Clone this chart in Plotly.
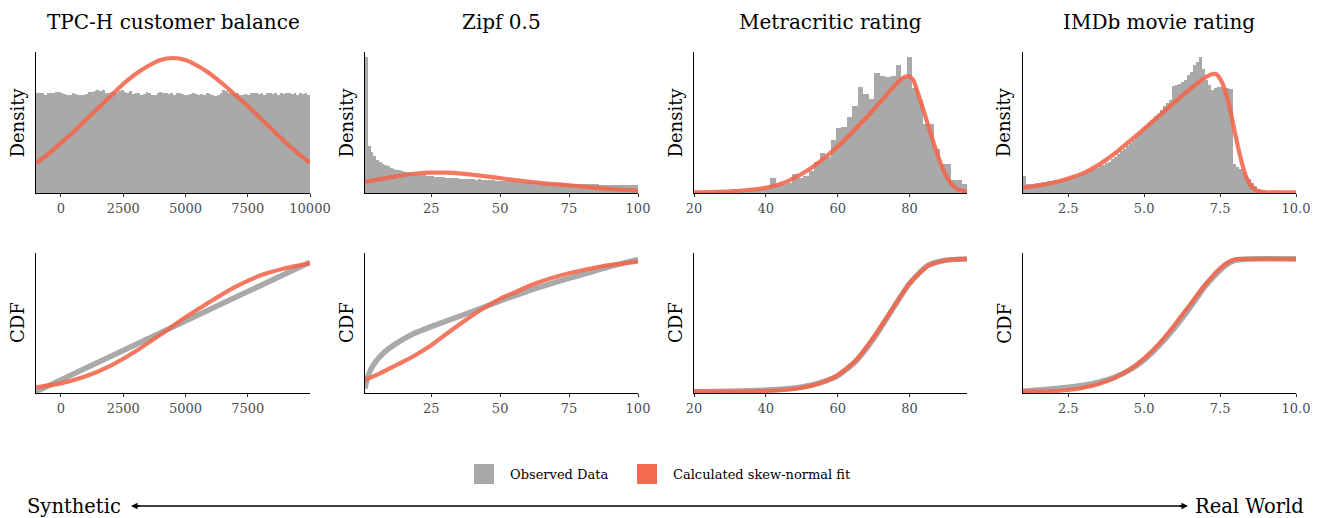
import plotly.graph_objects as go

W, H = 1322, 518

# ---------------- data ----------------
titles = ["TPC-H customer balance", "Zipf 0.5", "Metracritic rating", "IMDb movie rating"]

# TPC-H customer balance histogram: 100 bins of width 110 starting at -1000
tpch_bin_start, tpch_bin_width = -1000, 110
tpch_hist = [100.3, 100.3, 99.7, 98.0, 99.7, 99.7, 100.3, 101.3, 101.0, 99.7,
             99.0, 98.0, 98.3, 99.7, 98.7, 98.0, 97.7, 98.0, 99.0, 101.3,
             101.0, 101.7, 103.0, 102.0, 103.0, 99.7, 100.3, 101.3, 100.7, 99.7,
             102.0, 103.0, 101.3, 100.3, 102.3, 99.0, 99.7, 100.3, 98.3, 99.0,
             101.0, 100.3, 98.0, 98.3, 100.3, 101.0, 99.7, 100.3, 99.0, 99.7,
             98.3, 100.3, 99.7, 99.0, 97.7, 98.3, 99.0, 99.7, 98.7, 98.3,
             99.0, 98.0, 99.7, 98.7, 98.0, 97.0, 97.7, 99.7, 103.0, 101.7,
             99.7, 100.3, 99.0, 99.7, 98.3, 98.0, 99.0, 98.3, 99.7, 100.3,
             99.7, 99.0, 99.7, 98.3, 99.7, 100.3, 99.0, 99.7, 98.3, 99.7,
             99.0, 99.7, 100.3, 99.0, 99.7, 98.3, 99.7, 99.0, 99.7, 98.3]
tpch_fit_x = [-1000, -500, 0, 500, 1000, 1500, 2000, 2500, 3000, 3500, 4000, 4500,
              5000, 5500, 6000, 6500, 7000, 7500, 8000, 8500, 9000, 9500, 10000]
tpch_fit_y = [30, 39, 50, 61, 73, 85, 97, 109, 119, 127, 133, 135,
              133, 127, 119, 109, 98, 87, 75, 63, 51, 40, 30]

# Zipf 0.5 histogram: 99 bins of width 1 starting at 1
zipf_bin_start, zipf_bin_width = 1, 1
zipf_hist = [408, 140, 122, 110, 100, 93, 88, 84, 80, 76,
             73, 70, 68, 66, 64, 62, 60, 58, 57, 55,
             54, 53, 52, 52, 50, 49, 48, 48, 47, 46,
             46, 45, 44, 45, 43, 43, 42, 42, 41, 41,
             40, 41, 39, 39, 38, 38, 38, 37, 37, 36,
             36, 35, 35, 35, 34, 34, 33, 33, 33, 32,
             32, 32, 31, 31, 31, 30, 30, 30, 29, 29,
             29, 29, 28, 28, 28, 28, 27, 27, 27, 27,
             26, 26, 26, 26, 26, 25, 25, 25, 25, 25,
             24, 24, 24, 24, 24, 24, 23, 23, 23]
zipf_fit_x = [1, 6, 12, 18, 24, 30, 36, 42, 48, 54, 60, 66, 72, 78, 84, 90, 96, 100]
zipf_fit_y = [33, 41, 50, 57, 61, 61, 58, 53, 47, 40, 34, 29, 25, 21, 16, 12, 9, 7]

# Metacritic rating histogram: 50 bins of width 1.52 starting at 20
meta_bin_start, meta_bin_width = 20, 1.52
meta_hist = [2, 2, 3, 3, 4, 3, 5, 8, 5, 6,
             8, 10, 12, 15, 45, 25, 28, 30, 58, 45,
             50, 65, 95, 120, 108, 160, 195, 200, 230, 262,
             320, 300, 284, 364, 352, 350, 352, 387, 350, 412,
             317, 282, 207, 207, 132, 87, 87, 40, 40, 27]
meta_fit_x = [20, 25, 30, 35, 40, 44, 48, 52, 56, 60, 64, 68, 72, 75, 77.5, 79.6,
              81, 82.4, 84.3, 86.1, 88, 89.8, 91.7, 93.5, 96]
meta_fit_y = [2, 3, 5, 9, 16, 27, 46, 71, 103, 140, 183, 228, 277, 314, 342, 354,
              342, 300, 236, 172, 110, 60, 27, 11, 4]

# IMDb movie rating histogram: 80 bins of width 0.1 starting at 1.0
imdb_bin_start, imdb_bin_width = 1.0, 0.1
imdb_hist = [52, 26, 27, 28, 29, 31, 32, 33, 35, 36,
             38, 39, 40, 42, 44, 46, 48, 51, 54, 57,
             60, 64, 68, 72, 77, 82, 86, 90, 95, 103,
             110, 118, 126, 134, 143, 152, 161, 172, 180, 190,
             200, 210, 220, 232, 240, 252, 262, 272, 282, 324,
             326, 330, 334, 340, 357, 367, 387, 397, 412, 375,
             340, 325, 312, 318, 320, 320, 318, 316, 314, 87,
             80, 72, 62, 52, 42, 30, 22, 12, 4, 1]
imdb_fit_x = [1.0, 1.5, 2.0, 2.5, 3.0, 3.5, 4.0, 4.5, 5.0, 5.5, 6.0, 6.5, 7.0, 7.2, 7.35,
              7.5, 7.65, 7.8, 7.95, 8.1, 8.25, 8.4, 8.55, 8.7, 9.0, 10.0]
imdb_fit_y = [16, 22, 31, 44, 60, 85, 117, 155, 194, 234, 274, 313, 348, 358, 360,
              345, 315, 265, 200, 135, 80, 40, 18, 8, 3, 2]

# CDFs (observed = gray, skew-normal fit = red)
tpch_cdf_obs_x = [-1000, 0, 2500, 5000, 7500, 10000]
tpch_cdf_obs_y = [0.0, 0.089, 0.31, 0.532, 0.754, 0.975]
tpch_cdf_fit_x = [-1000, 0, 1000, 2000, 3000, 4000, 5000, 6000, 7000, 8000, 9000, 10000]
tpch_cdf_fit_y = [0.033, 0.063, 0.116, 0.197, 0.305, 0.43, 0.56, 0.68, 0.79, 0.875, 0.93, 0.967]

zipf_cdf_obs_x = [1, 2, 4, 7.6, 12.4, 18.4, 25, 36.5, 50, 63, 75, 87.5, 100]
zipf_cdf_obs_y = [0.025, 0.113, 0.201, 0.289, 0.364, 0.435, 0.49, 0.578, 0.683, 0.779, 0.854, 0.930, 0.997]
zipf_cdf_fit_x = [1, 6.4, 12.4, 18.4, 25, 30.5, 36.5, 42.5, 50, 56, 63, 75, 87.5, 100]
zipf_cdf_fit_y = [0.088, 0.138, 0.201, 0.265, 0.35, 0.435, 0.525, 0.61, 0.70, 0.755, 0.817, 0.892, 0.947, 0.980]

meta_cdf_obs_x = [20, 30, 40, 45, 50, 55, 60, 65, 70, 75, 80, 85, 90, 96]
meta_cdf_obs_y = [0.0, 0.004, 0.012, 0.02, 0.035, 0.066, 0.12, 0.228, 0.40, 0.61, 0.815, 0.95, 0.99, 1.0]
meta_cdf_fit_x = [20, 30, 40, 45, 50, 55, 60, 65, 70, 75, 80, 85, 90, 96]
meta_cdf_fit_y = [0.0, 0.001, 0.005, 0.013, 0.03, 0.064, 0.125, 0.235, 0.41, 0.615, 0.815, 0.945, 0.99, 1.0]

imdb_cdf_obs_x = [1.0, 1.5, 2.0, 2.5, 3.0, 3.5, 4.0, 4.5, 5.0, 5.5, 6.0, 6.5, 7.0, 7.5, 7.8, 8.0, 8.5, 10.0]
imdb_cdf_obs_y = [0.003, 0.012, 0.022, 0.033, 0.048, 0.072, 0.107, 0.16, 0.24, 0.35, 0.48, 0.63, 0.79, 0.915, 0.97, 0.99, 1.0, 1.0]
imdb_cdf_fit_x = [1.0, 2.0, 2.5, 3.0, 3.5, 4.0, 4.5, 5.0, 5.5, 6.0, 6.5, 7.0, 7.5, 7.8, 8.0, 8.5, 10.0]
imdb_cdf_fit_y = [0.0, 0.003, 0.013, 0.03, 0.058, 0.1, 0.163, 0.251, 0.364, 0.503, 0.653, 0.804, 0.93, 0.98, 0.997, 1.0, 1.0]

# axis settings per column
x_ranges_top = [[-1000, 10000], [1, 100], [20, 96], [1, 10]]
x_ranges_bot = [[-1000, 10000], [1, 100], [20, 96], [1, 10]]
ticks_top = [[0, 2500, 5000, 7500, 10000], [25, 50, 75, 100], [20, 40, 60, 80], [2.5, 5.0, 7.5, 10.0]]
ticks_bot = [[0, 2500, 5000, 7500], [25, 50, 75, 100], [20, 40, 60, 80], [2.5, 5.0, 7.5, 10.0]]
tick_text_top = [["0", "2500", "5000", "7500", "10000"], ["25", "50", "75", "100"], ["20", "40", "60", "80"], ["2.5", "5.0", "7.5", "10.0"]]
tick_text_bot = [["0", "2500", "5000", "7500"], ["25", "50", "75", "100"], ["20", "40", "60", "80"], ["2.5", "5.0", "7.5", "10.0"]]
hist_ymax = [141, 423, 426, 426]
cdf_yrange = [-0.012, 1.047]

# ---------------- styling ----------------
GRAY = "#A9A9A9"
RED = "rgba(243,101,74,0.88)"
FONT = "DejaVu Serif"
col_px = [(36, 310), (365, 638), (694, 967), (1022.7, 1296)]
row_px = [(52, 193), (252.7, 393.3)]

fig = go.Figure()

hists = [
    (tpch_bin_start, tpch_bin_width, tpch_hist, tpch_fit_x, tpch_fit_y),
    (zipf_bin_start, zipf_bin_width, zipf_hist, zipf_fit_x, zipf_fit_y),
    (meta_bin_start, meta_bin_width, meta_hist, meta_fit_x, meta_fit_y),
    (imdb_bin_start, imdb_bin_width, imdb_hist, imdb_fit_x, imdb_fit_y),
]
cdfs = [
    (tpch_cdf_obs_x, tpch_cdf_obs_y, tpch_cdf_fit_x, tpch_cdf_fit_y),
    (zipf_cdf_obs_x, zipf_cdf_obs_y, zipf_cdf_fit_x, zipf_cdf_fit_y),
    (meta_cdf_obs_x, meta_cdf_obs_y, meta_cdf_fit_x, meta_cdf_fit_y),
    (imdb_cdf_obs_x, imdb_cdf_obs_y, imdb_cdf_fit_x, imdb_cdf_fit_y),
]

SM = 0.6
for c in range(4):
    top = c + 1
    bot = c + 5
    start, width, hv, fx, fy = hists[c]
    centers = [start + width * (i + 0.5) for i in range(len(hv))]
    fig.add_trace(go.Bar(x=centers, y=hv, width=width, marker=dict(color=GRAY, line=dict(width=0)),
                         xaxis=f"x{top}", yaxis=f"y{top}", showlegend=False, hoverinfo="skip"))
    fig.add_trace(go.Scatter(x=fx, y=fy, mode="lines", line=dict(color=RED, width=4.2, shape="spline", smoothing=SM),
                             xaxis=f"x{top}", yaxis=f"y{top}", showlegend=False, hoverinfo="skip"))
    ox, oy, rx, ry = cdfs[c]
    fig.add_trace(go.Scatter(x=ox, y=oy, mode="lines", line=dict(color=GRAY, width=5.5, shape="spline", smoothing=SM),
                             xaxis=f"x{bot}", yaxis=f"y{bot}", showlegend=False, hoverinfo="skip"))
    fig.add_trace(go.Scatter(x=rx, y=ry, mode="lines", line=dict(color=RED, width=4.2, shape="spline", smoothing=SM),
                             xaxis=f"x{bot}", yaxis=f"y{bot}", showlegend=False, hoverinfo="skip"))

layout = dict(
    width=W, height=H, margin=dict(l=0, r=0, t=0, b=0, autoexpand=False),
    paper_bgcolor="white", plot_bgcolor="white", bargap=0, barmode="overlay",
    font=dict(family=FONT, color="black"),
)

def xax(dom, rng, tv, tt, anchor):
    return dict(domain=dom, range=rng, tickvals=tv, ticktext=tt, anchor=anchor, automargin=False,
                showline=True, linecolor="black", linewidth=1.3, ticks="outside", ticklen=3,
                tickcolor="#333333", tickwidth=1, showgrid=False, zeroline=False,
                tickfont=dict(family=FONT, size=13, color="#4D4D4D"), fixedrange=True)

def yax(dom, rng, anchor):
    return dict(domain=dom, range=rng, anchor=anchor, automargin=False, showline=True, linecolor="black",
                linewidth=1.3, showticklabels=False, ticks="", showgrid=False, zeroline=False, fixedrange=True)

annotations = []
for c in range(4):
    xd = [col_px[c][0] / W, col_px[c][1] / W]
    yd_top = [1 - row_px[0][1] / H, 1 - row_px[0][0] / H]
    yd_bot = [1 - row_px[1][1] / H, 1 - row_px[1][0] / H]
    top = c + 1
    bot = c + 5
    layout[f"xaxis{top}"] = xax(xd, x_ranges_top[c], ticks_top[c], tick_text_top[c], f"y{top}")
    layout[f"yaxis{top}"] = yax(yd_top, [0, hist_ymax[c]], f"x{top}")
    layout[f"xaxis{bot}"] = xax(xd, x_ranges_bot[c], ticks_bot[c], tick_text_bot[c], f"y{bot}")
    layout[f"yaxis{bot}"] = yax(yd_bot, cdf_yrange, f"x{bot}")
    annotations.append(dict(text=titles[c], x=(xd[0] + xd[1]) / 2, y=1 - 22 / H, xref="paper", yref="paper",
                            xanchor="center", yanchor="middle", showarrow=False,
                            font=dict(family=FONT, size=20, color="black")))
    for lab, (r0, r1) in (("Density", row_px[0]), ("CDF", row_px[1])):
        annotations.append(dict(text=lab, x=(col_px[c][0] - 19) / W, y=1 - (r0 + r1) / 2 / H,
                                xref="paper", yref="paper", xanchor="center", yanchor="middle",
                                textangle=-90, showarrow=False,
                                font=dict(family=FONT, size=18, color="black")))

# legend (manual)
arrow_y = 1 - 506 / H
shapes = [
    dict(type="rect", xref="paper", yref="paper", x0=474 / W, x1=494 / W, y0=1 - 484 / H, y1=1 - 464 / H,
         fillcolor=GRAY, line=dict(width=0)),
    dict(type="rect", xref="paper", yref="paper", x0=637 / W, x1=657 / W, y0=1 - 484 / H, y1=1 - 464 / H,
         fillcolor="#F26A4F", line=dict(width=0)),
    dict(type="line", xref="paper", yref="paper", x0=133 / W, x1=1186 / W, y0=arrow_y, y1=arrow_y,
         line=dict(color="black", width=1.3)),
]
annotations.append(dict(text="Observed Data", x=508 / W, y=1 - 474 / H, xref="paper", yref="paper",
                        xanchor="left", yanchor="middle", showarrow=False,
                        font=dict(family=FONT, size=13, color="black")))
annotations.append(dict(text="Calculated skew-normal fit", x=671 / W, y=1 - 474 / H, xref="paper", yref="paper",
                        xanchor="left", yanchor="middle", showarrow=False,
                        font=dict(family=FONT, size=13, color="black")))

# Synthetic <-> Real World arrow
annotations.append(dict(text="Synthetic", x=123 / W, y=arrow_y, xref="paper", yref="paper",
                        xanchor="right", yanchor="middle", showarrow=False,
                        font=dict(family=FONT, size=19.5, color="black")))
annotations.append(dict(text="Real World", x=1193 / W, y=arrow_y, xref="paper", yref="paper",
                        xanchor="left", yanchor="middle", showarrow=False,
                        font=dict(family=FONT, size=19.5, color="black")))
for tip, tail in ((131, 141), (1188, 1178)):
    annotations.append(dict(text="", x=tip / W, y=arrow_y, xref="paper", yref="paper",
                            ax=tail - tip, ay=0, axref="pixel", ayref="pixel",
                            showarrow=True, arrowhead=2, arrowsize=1, arrowwidth=1.3, standoff=0,
                            arrowcolor="black"))

layout["annotations"] = annotations
layout["shapes"] = shapes
fig.update_layout(**layout)

fig.write_html("out.html", config={"displayModeBar": False},
               post_script="document.body.style.margin='0px';document.body.style.overflow='hidden';")
